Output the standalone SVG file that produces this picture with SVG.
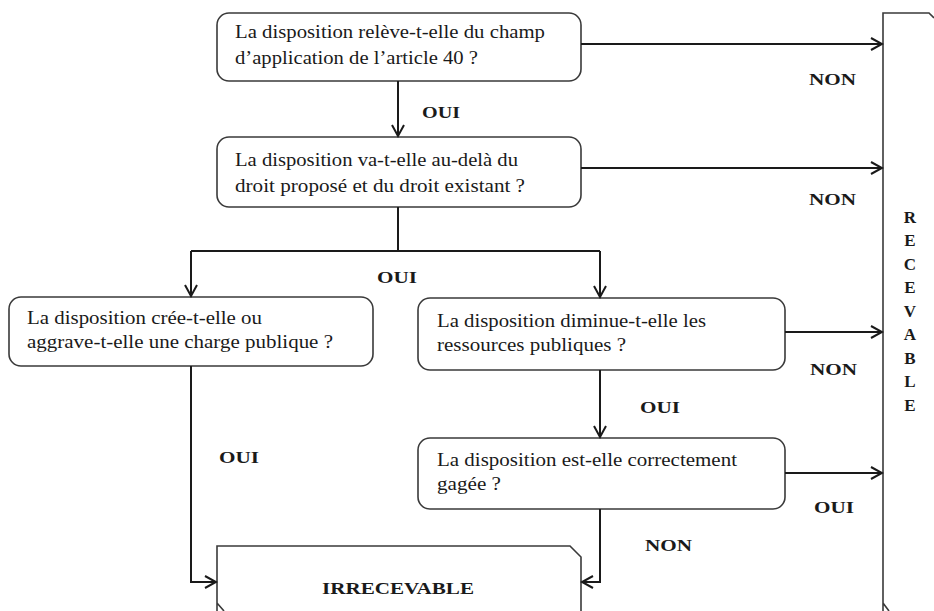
<svg xmlns="http://www.w3.org/2000/svg" width="934" height="611" viewBox="0 0 934 611">
<defs>
<marker id="arr" markerUnits="userSpaceOnUse" markerWidth="14" markerHeight="16" refX="12" refY="7" orient="auto">
<path d="M1,1 L12,7 L1,13" fill="none" stroke="#1a1a1a" stroke-width="2"/>
</marker>
<style>
.box{fill:#fff;stroke:#3a3a3a;stroke-width:1.6}
.lb{font-family:"Liberation Serif","Times New Roman",serif;font-size:17px;font-weight:bold;fill:#1a1a1a}
.big{font-family:"Liberation Serif","Times New Roman",serif;font-size:17px;font-weight:bold;fill:#1a1a1a}
.c{fill:none;stroke:#1a1a1a;stroke-width:2}
</style>
</defs>
<rect width="934" height="611" fill="#fff"/>
<g id="recevable">
<path class="box" d="M883,611 L883,13 L929,13 L934,18 M883,603 L889,611"/>
<text class="big" x="910" text-anchor="middle">
<tspan x="910" y="223">R</tspan><tspan x="910" y="246">E</tspan><tspan x="910" y="270">C</tspan><tspan x="910" y="293">E</tspan><tspan x="910" y="317">V</tspan><tspan x="910" y="340">A</tspan><tspan x="910" y="364">B</tspan><tspan x="910" y="387">L</tspan><tspan x="910" y="411">E</tspan>
</text>
</g>
<g id="irrecevable">
<path class="box" d="M217,611 L217,546 L570,546 L581,557 L581,611 M217,603 L224,611"/>
<text class="big" x="398" y="594" text-anchor="middle" textLength="152" lengthAdjust="spacingAndGlyphs">IRRECEVABLE</text>
</g>
<g id="q1" font-family="Liberation Serif, serif" font-size="18" fill="#1a1a1a">
<rect class="box" x="217" y="13" width="364" height="68" rx="12"/>
<text x="235" y="38" textLength="310" lengthAdjust="spacingAndGlyphs">La disposition  relève-t-elle du champ</text>
<text x="235" y="64" textLength="243" lengthAdjust="spacingAndGlyphs">d’application  de l’article  40 ?</text>
</g>
<g id="q2" font-family="Liberation Serif, serif" font-size="18" fill="#1a1a1a">
<rect class="box" x="217" y="137" width="364" height="70" rx="12"/>
<text x="235" y="166" textLength="283" lengthAdjust="spacingAndGlyphs">La disposition  va-t-elle au-delà du</text>
<text x="235" y="192" textLength="290" lengthAdjust="spacingAndGlyphs">droit proposé et du droit existant ?</text>
</g>
<g id="q3" font-family="Liberation Serif, serif" font-size="18" fill="#1a1a1a">
<rect class="box" x="9" y="297" width="364" height="69" rx="12"/>
<text x="27" y="324" textLength="235" lengthAdjust="spacingAndGlyphs">La disposition  crée-t-elle ou</text>
<text x="27" y="348" textLength="306" lengthAdjust="spacingAndGlyphs">aggrave-t-elle une charge publique  ?</text>
</g>
<g id="q4" font-family="Liberation Serif, serif" font-size="18" fill="#1a1a1a">
<rect class="box" x="418" y="298" width="367" height="72" rx="12"/>
<text x="437" y="327" textLength="269" lengthAdjust="spacingAndGlyphs">La disposition  diminue-t-elle  les</text>
<text x="437" y="351" textLength="189" lengthAdjust="spacingAndGlyphs">ressources publiques  ?</text>
</g>
<g id="q5" font-family="Liberation Serif, serif" font-size="18" fill="#1a1a1a">
<rect class="box" x="418" y="438" width="367" height="71" rx="12"/>
<text x="437" y="466" textLength="300" lengthAdjust="spacingAndGlyphs">La disposition  est-elle correctement</text>
<text x="437" y="490" textLength="64" lengthAdjust="spacingAndGlyphs">gagée ?</text>
</g>
<g id="connectors">
<path class="c" d="M581,44 H882" marker-end="url(#arr)"/>
<path class="c" d="M398,81 V136" marker-end="url(#arr)"/>
<path class="c" d="M581,168 H882" marker-end="url(#arr)"/>
<path class="c" d="M398,207 V251"/>
<path class="c" d="M191,251 H600"/>
<path class="c" d="M191,251 V296" marker-end="url(#arr)"/>
<path class="c" d="M600,251 V297" marker-end="url(#arr)"/>
<path class="c" d="M785,332 H882" marker-end="url(#arr)"/>
<path class="c" d="M600,370 V437" marker-end="url(#arr)"/>
<path class="c" d="M785,473 H882" marker-end="url(#arr)"/>
<path class="c" d="M600,509 V582 H582" marker-end="url(#arr)"/>
<path class="c" d="M191,366 V582 H216" marker-end="url(#arr)"/>
<text class="lb" x="422" y="118" textLength="38" lengthAdjust="spacingAndGlyphs">OUI</text>
<text class="lb" x="809" y="85" textLength="47" lengthAdjust="spacingAndGlyphs">NON</text>
<text class="lb" x="809" y="205" textLength="47" lengthAdjust="spacingAndGlyphs">NON</text>
<text class="lb" x="377" y="283" textLength="40" lengthAdjust="spacingAndGlyphs">OUI</text>
<text class="lb" x="219" y="463" textLength="40" lengthAdjust="spacingAndGlyphs">OUI</text>
<text class="lb" x="810" y="375" textLength="47" lengthAdjust="spacingAndGlyphs">NON</text>
<text class="lb" x="640" y="413" textLength="40" lengthAdjust="spacingAndGlyphs">OUI</text>
<text class="lb" x="814" y="513" textLength="40" lengthAdjust="spacingAndGlyphs">OUI</text>
<text class="lb" x="645" y="551" textLength="47" lengthAdjust="spacingAndGlyphs">NON</text>
</g>
</svg>
